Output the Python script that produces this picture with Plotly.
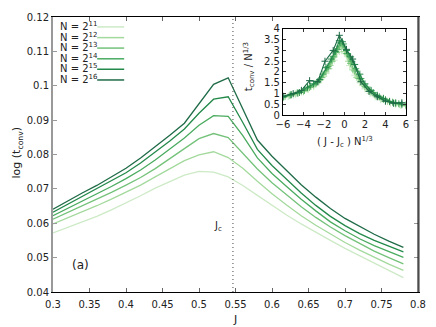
import plotly.graph_objects as go

# main panel: J grid and log(t_conv) for each system size
J = [0.30, 0.32, 0.34, 0.36, 0.38, 0.40, 0.42, 0.44, 0.46, 0.48, 0.50, 0.52, 0.54,
     0.56, 0.58, 0.60, 0.62, 0.64, 0.66, 0.68, 0.70, 0.72, 0.74, 0.76, 0.78]

logt_11 = [0.0572, 0.0588, 0.0604, 0.0620, 0.0639, 0.0659, 0.0680, 0.0702, 0.0722, 0.0740, 0.0751, 0.0749, 0.0735,
           0.0710, 0.0681, 0.0652, 0.0624, 0.0598, 0.0573, 0.0550, 0.0527, 0.0505, 0.0485, 0.0463, 0.0442]
logt_12 = [0.0598, 0.0615, 0.0633, 0.0651, 0.0670, 0.0690, 0.0711, 0.0735, 0.0759, 0.0782, 0.0799, 0.0808, 0.0791,
           0.0760, 0.0722, 0.0686, 0.0653, 0.0622, 0.0594, 0.0568, 0.0544, 0.0522, 0.0501, 0.0481, 0.0463]
logt_13 = [0.0612, 0.0631, 0.0650, 0.0670, 0.0690, 0.0711, 0.0733, 0.0759, 0.0787, 0.0817, 0.0846, 0.0861, 0.0849,
           0.0805, 0.0758, 0.0718, 0.0682, 0.0648, 0.0617, 0.0589, 0.0564, 0.0541, 0.0519, 0.0500, 0.0482]
logt_14 = [0.0622, 0.0643, 0.0664, 0.0685, 0.0707, 0.0730, 0.0755, 0.0784, 0.0815, 0.0848, 0.0885, 0.0913, 0.0911,
           0.0855, 0.0790, 0.0745, 0.0707, 0.0670, 0.0636, 0.0604, 0.0578, 0.0555, 0.0535, 0.0517, 0.0501]
logt_15 = [0.0632, 0.0655, 0.0677, 0.0699, 0.0722, 0.0747, 0.0775, 0.0806, 0.0839, 0.0874, 0.0920, 0.0961, 0.0968,
           0.0893, 0.0815, 0.0768, 0.0727, 0.0688, 0.0652, 0.0620, 0.0593, 0.0570, 0.0550, 0.0533, 0.0517]
logt_16 = [0.0641, 0.0665, 0.0688, 0.0710, 0.0735, 0.0760, 0.0790, 0.0822, 0.0856, 0.0891, 0.0948, 0.1004, 0.1023,
           0.0930, 0.0842, 0.0795, 0.0752, 0.0712, 0.0676, 0.0643, 0.0614, 0.0590, 0.0568, 0.0548, 0.0530]

Jc = 0.5465

# inset: scaled collapse t_conv / N^(1/3) vs (J - Jc) N^(1/3)
x_11 = [-6, -5.5, -5, -4.5, -4, -3.5, -3, -2.5, -2, -1.5, -1, -0.5, 0, 0.5, 1, 1.5, 2, 2.5, 3, 3.5, 4, 4.5, 5, 5.5, 6]
y_11 = [0.80, 0.86, 0.93, 1.00, 1.08, 1.20, 1.32, 1.50, 1.80, 2.15, 2.55, 2.95, 2.85, 2.30, 1.85, 1.50, 1.22, 1.00,
        0.85, 0.72, 0.63, 0.56, 0.50, 0.45, 0.42]
x_12 = [-6.0, -5.4, -4.8, -4.2, -3.6, -3.0, -2.4, -1.8, -1.4, -1.0, -0.6, -0.3, 0.0, 0.4, 0.8, 1.2, 1.8, 2.4, 3.0,
        3.6, 4.2, 4.8, 5.4, 6.0]
y_12 = [0.83, 0.90, 0.98, 1.08, 1.22, 1.38, 1.62, 1.95, 2.30, 2.70, 3.05, 3.15, 2.95, 2.50, 2.10, 1.75, 1.40, 1.12,
        0.92, 0.76, 0.64, 0.56, 0.49, 0.44]
x_13 = [-5.8, -5.2, -4.6, -4.0, -3.4, -2.8, -2.2, -1.6, -1.2, -0.8, -0.5, -0.2, 0.2, 0.6, 1.0, 1.4, 2.0, 2.6, 3.2,
        3.8, 4.4, 5.0, 5.6]
y_13 = [0.86, 0.94, 1.02, 1.12, 1.28, 1.45, 1.75, 2.15, 2.50, 2.90, 3.20, 3.25, 2.85, 2.40, 2.05, 1.70, 1.32, 1.08,
        0.88, 0.73, 0.62, 0.55, 0.48]
x_14 = [-6.0, -5.3, -4.6, -3.9, -3.3, -2.7, -2.1, -1.6, -1.1, -0.7, -0.4, -0.1, 0.3, 0.7, 1.1, 1.6, 2.2, 2.8, 3.4,
        4.0, 4.7, 5.3, 6.0]
y_14 = [0.85, 0.93, 1.03, 1.15, 1.35, 1.52, 1.90, 2.25, 2.70, 3.05, 3.35, 3.30, 2.85, 2.50, 2.15, 1.70, 1.30, 1.05,
        0.85, 0.72, 0.60, 0.53, 0.47]
x_15 = [-6.0, -5.2, -4.4, -3.6, -3.0, -2.4, -1.8, -1.3, -0.9, -0.5, -0.2, 0.2, 0.6, 1.0, 1.5, 2.0, 2.6, 3.2, 3.8,
        4.4, 5.0, 5.6]
y_15 = [0.84, 0.95, 1.05, 1.30, 1.45, 1.65, 2.20, 2.60, 2.95, 3.45, 3.40, 3.00, 2.70, 2.35, 1.90, 1.45, 1.15, 0.92,
        0.78, 0.64, 0.57, 0.52]
x_16 = [-6.0, -5.0, -4.2, -3.4, -2.6, -1.9, -1.1, -0.5, 0.2, 0.8, 1.6, 2.4, 3.2, 4.0, 4.8, 5.6]
y_16 = [0.88, 1.00, 1.15, 1.60, 1.55, 2.50, 3.00, 3.70, 3.05, 2.60, 1.55, 1.10, 0.85, 0.65, 0.55, 0.58]

labels = ["N = 2<sup>11</sup>", "N = 2<sup>12</sup>", "N = 2<sup>13</sup>",
          "N = 2<sup>14</sup>", "N = 2<sup>15</sup>", "N = 2<sup>16</sup>"]
colors = ["#cdeac6", "#a3d99c", "#74c27a", "#4aab5f", "#23894a", "#1f6b47"]

main_series = [logt_11, logt_12, logt_13, logt_14, logt_15, logt_16]
inset_series = [(x_11, y_11), (x_12, y_12), (x_13, y_13), (x_14, y_14), (x_15, y_15), (x_16, y_16)]

fig = go.Figure()

for ys, c in zip(main_series, colors):
    fig.add_trace(go.Scatter(x=J, y=ys, mode="lines", line=dict(color=c, width=1.3),
                             showlegend=False, xaxis="x", yaxis="y"))

fig.add_trace(go.Scatter(x=[Jc, Jc], y=[0.04, 0.12], mode="lines",
                         line=dict(color="#444", width=1, dash="1px,3px"), showlegend=False))

for (xs, ys), c in zip(inset_series, colors):
    fig.add_trace(go.Scatter(x=xs, y=ys, mode="lines+markers", line=dict(color=c, width=1.1),
                             marker=dict(symbol="cross-thin", size=5, line=dict(color=c, width=1)),
                             showlegend=False, xaxis="x2", yaxis="y2"))

tickfont = dict(family="DejaVu Sans", size=10, color="#222")

# page body has an 8px margin, so the figure is shrunk by 8px and margins shifted
fig.update_layout(
    width=428, height=319,
    margin=dict(l=45, r=18, t=4, b=35),
    paper_bgcolor="white", plot_bgcolor="white",
    font=dict(family="DejaVu Sans", size=10, color="#222"),
    xaxis=dict(range=[0.3, 0.8], tickvals=[0.3, 0.35, 0.4, 0.45, 0.5, 0.55, 0.6, 0.65, 0.7, 0.75, 0.8],
               ticktext=["0.3", "0.35", "0.4", "0.45", "0.5", "0.55", "0.6", "0.65", "0.7", "0.75", "0.8"],
               showgrid=False, zeroline=False, showline=True, linecolor="black", linewidth=1,
               mirror="ticks", ticks="inside", ticklen=4, tickcolor="#666", tickfont=tickfont,
               ticklabelstandoff=3),
    yaxis=dict(range=[0.04, 0.12], tickvals=[0.04, 0.05, 0.06, 0.07, 0.08, 0.09, 0.1, 0.11, 0.12],
               ticktext=["0.04", "0.05", "0.06", "0.07", "0.08", "0.09", "0.1", "0.11", "0.12"],
               showgrid=False, zeroline=False, showline=True, linecolor="#999", linewidth=2,
               mirror="ticks", ticks="inside", ticklen=4, tickcolor="#999", tickfont=tickfont),
    xaxis2=dict(domain=[0.630, 0.967], anchor="y2", range=[-6, 6], dtick=2,
                showgrid=False, zeroline=False, showline=True, linecolor="black", linewidth=1,
                mirror="ticks", ticks="inside", ticklen=3, tickcolor="#333", tickfont=tickfont),
    yaxis2=dict(domain=[0.643, 0.957], anchor="x2", range=[0, 4], dtick=0.5,
                showgrid=False, zeroline=False, showline=True, linecolor="black", linewidth=1,
                mirror="ticks", ticks="inside", ticklen=3, tickcolor="#333", tickfont=tickfont),
)

# right border of main frame in black
fig.add_shape(type="line", xref="paper", yref="paper", x0=1, x1=1, y0=0, y1=1,
              line=dict(color="black", width=1))

# hand-drawn legend (text left, line sample right)
row_y = [0.968, 0.929, 0.891, 0.852, 0.814, 0.775]
for lab, c, yy in zip(labels, colors, row_y):
    fig.add_annotation(x=0.014, y=yy, xref="paper", yref="paper", text=lab, showarrow=False,
                       xanchor="left", yanchor="middle", font=dict(size=10, color="#222"))
    fig.add_shape(type="line", xref="paper", yref="paper", x0=0.121, x1=0.195, y0=yy - 0.004, y1=yy - 0.004,
                  line=dict(color=c, width=1.5))

def label(x, y, text, ref="paper", size=10, angle=0):
    fig.add_annotation(x=x, y=y, xref=ref, yref=ref if ref == "paper" else "y", text=text,
                       showarrow=False, xanchor="center", yanchor="middle", textangle=angle,
                       font=dict(size=size, color="#222"))

label(0.499, -0.1, "J", size=11)
label(-0.099, 0.507, "log (t<sub>conv</sub>)", size=11, angle=-90)
label(0.526, 0.0591, "J<sub>c</sub>", ref="x")
label(0.337, 0.048, "(a)", ref="x", size=12)
label(0.536, 0.82, "t<sub>conv</sub> / N<sup>1/3</sup>", angle=-90)
label(0.80, 0.546, "( J - J<sub>c</sub> ) N<sup>1/3</sup>")

fig.write_html("out.html")
